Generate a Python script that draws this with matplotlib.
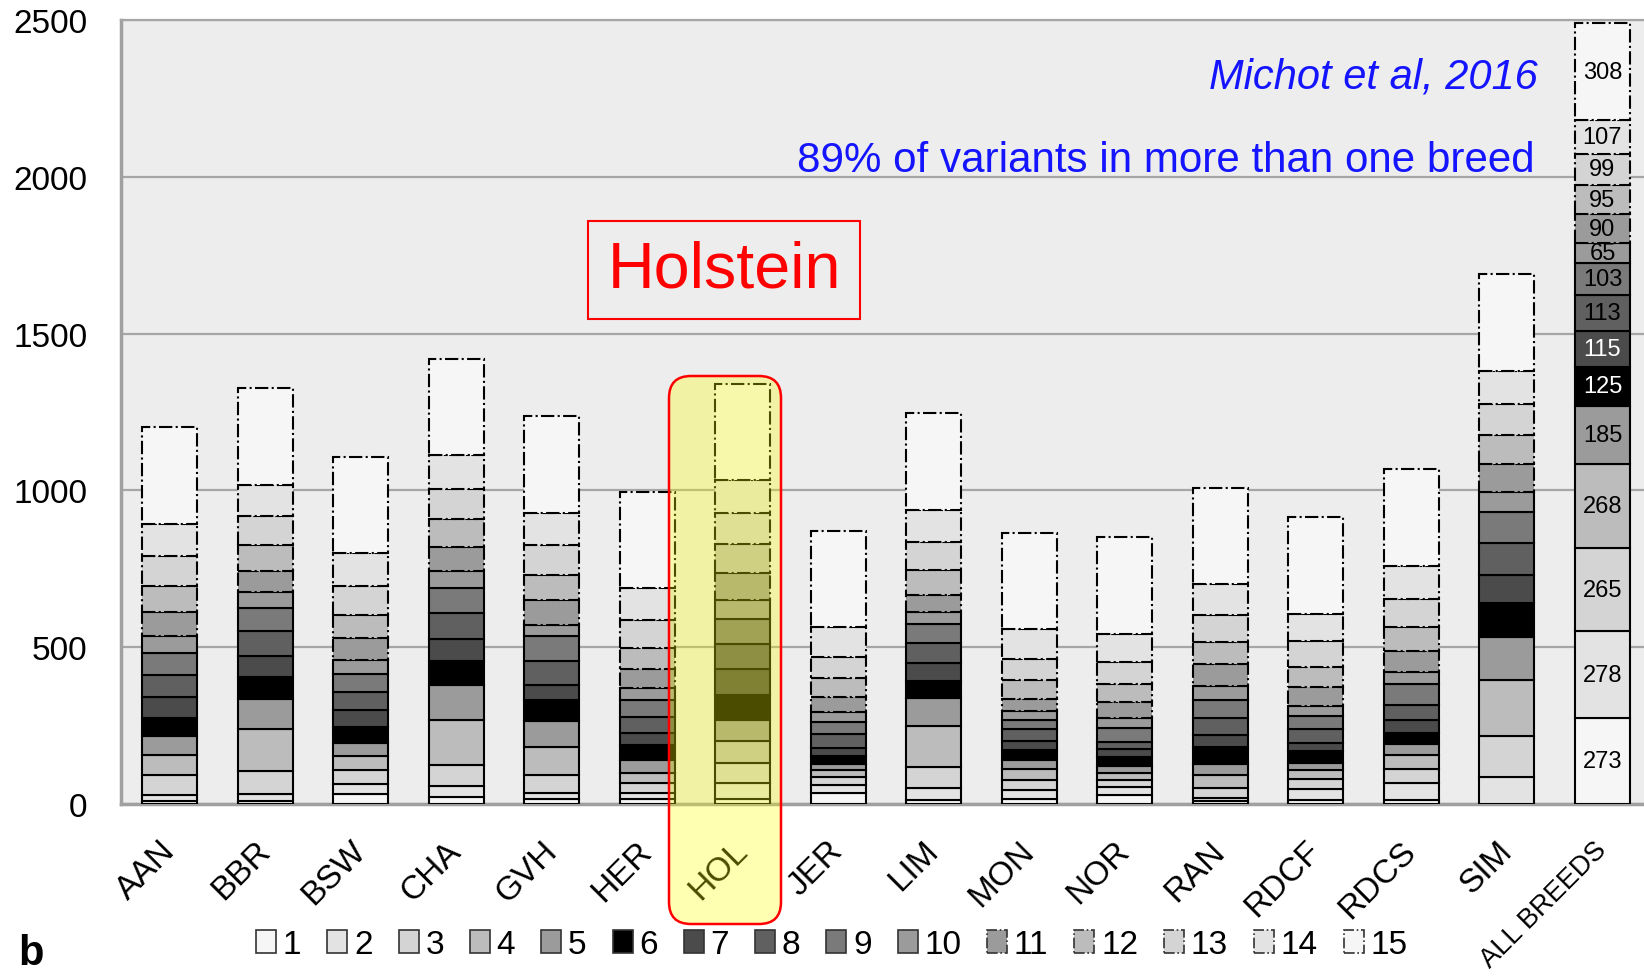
import numpy as np
import matplotlib
matplotlib.use("Agg")
import matplotlib.pyplot as plt
from matplotlib.patches import Patch, FancyBboxPatch
from matplotlib.transforms import IdentityTransform

plt.rcParams['font.family'] = ['Liberation Sans', 'DejaVu Sans']

# number of variants per breed, split by how many breeds share the variant (1..15)
breeds = ["AAN", "BBR", "BSW", "CHA", "GVH", "HER", "HOL", "JER", "LIM",
          "MON", "NOR", "RAN", "RDCF", "RDCS", "SIM", "ALL BREEDS"]
shared = [str(k) for k in range(1, 16)]

AAN = [8, 21, 64, 64, 60, 57, 68, 70, 70, 55, 74, 85, 96, 101, 308]
BBR = [8, 24, 72, 135, 96, 69, 67, 82, 71, 51, 69, 83, 90, 100, 308]
BSW = [33, 32, 45, 43, 43, 51, 52, 58, 58, 44, 70, 74, 93, 103, 308]
CHA = [23, 35, 67, 144, 110, 76, 71, 82, 80, 55, 77, 90, 96, 106, 308]
GVH = [16, 19, 58, 88, 85, 66, 48, 77, 78, 37, 77, 80, 96, 104, 308]
HER = [16, 18, 33, 32, 42, 46, 39, 53, 52, 38, 60, 69, 90, 100, 308]
HOL = [15, 51, 66, 68, 67, 82, 80, 81, 79, 62, 85, 94, 99, 103, 308]
JER = [36, 24, 26, 24, 16, 27, 27, 43, 37, 32, 50, 60, 68, 94, 308]
LIM = [14, 37, 67, 130, 90, 55, 56, 63, 61, 39, 55, 80, 88, 104, 308]
MON = [15, 30, 32, 34, 30, 30, 29, 39, 30, 27, 39, 62, 64, 96, 308]
NOR = [30, 24, 23, 21, 23, 28, 26, 24, 43, 32, 50, 58, 72, 88, 308]
RAN = [8, 10, 32, 43, 35, 55, 37, 53, 58, 45, 70, 71, 85, 99, 308]
RDCF = [14, 34, 33, 27, 23, 37, 27, 43, 43, 32, 61, 62, 85, 85, 308]
RDCS = [14, 53, 46, 43, 35, 34, 43, 48, 67, 39, 67, 77, 88, 105, 308]
SIM = [0, 85, 133, 176, 137, 110, 88, 103, 99, 64, 88, 95, 96, 107, 308]
ALL = [273, 278, 265, 268, 185, 125, 115, 113, 103, 65, 90, 95, 99, 107, 308]

data = np.array([AAN, BBR, BSW, CHA, GVH, HER, HOL, JER, LIM,
                 MON, NOR, RAN, RDCF, RDCS, SIM, ALL])

colors = ["#f5f6f5", "#e3e3e3", "#d4d4d4", "#bcbcbc", "#9b9b9b",
          "#000000", "#4b4b4b", "#606060", "#7a7a7a", "#9b9b9b",
          "#9b9b9b", "#bcbcbc", "#d4d4d4", "#e3e3e3", "#f5f6f5"]
styles = ['-'] * 10 + ['-.'] * 5

W, H = 1644, 978
fig = plt.figure(figsize=(W / 100, H / 100), dpi=100)
ax = fig.add_axes([121 / W, (H - 805) / H, 1 - 121 / W, (805 - 21) / H])
ax.set_facecolor('#ecedec')

pos = np.arange(len(breeds))
bottom = np.zeros(len(breeds))
for k in range(15):
    ax.bar(pos, data[:, k], 0.576, bottom=bottom, color=colors[k],
           edgecolor='black', linewidth=1.5, linestyle=styles[k], zorder=3)
    bottom += data[:, k]

# numbers inside the ALL BREEDS bar
cum = np.cumsum(ALL)
for k, v in enumerate(ALL):
    c = 'white' if k in (5, 6) else 'black'
    ax.text(pos[-1], cum[k] - v / 2, str(v), ha='center', va='center',
            fontsize=17, color=c, zorder=5)

ax.set_xlim(-0.513, 15.435)
ax.set_ylim(0, 2500)
ax.set_yticks(range(0, 2501, 500))
ax.yaxis.grid(True, color='#a6a6a6', linewidth=1.6, zorder=0)
ax.set_axisbelow(True)
ax.tick_params(axis='y', length=0, pad=24, labelsize=24)
ax.tick_params(axis='x', length=0, pad=30)
ax.set_xticks(pos)
ax.set_xticklabels(breeds, rotation=45, ha='right', rotation_mode='anchor',
                   fontsize=24)
for t in ax.get_xticklabels():
    t.set_va('center')
# the long last label is kept a bit smaller so it stays inside the figure
ax.get_xticklabels()[-1].set_fontsize(19.5)

for s in ['left', 'bottom']:
    ax.spines[s].set_color('#a0a0a0')
    ax.spines[s].set_linewidth(2.5)
ax.spines['top'].set_color('#a6a6a6')
ax.spines['top'].set_linewidth(1.6)
ax.spines['right'].set_visible(False)

# texts
fig.text(1538 / W, 1 - 78 / H, "Michot et al, 2016", color='#1414ff',
         fontsize=30, style='italic', ha='right', va='center')
fig.text(1535 / W, 1 - 161 / H, "89% of variants in more than one breed",
         color='#1414ff', fontsize=30.3, ha='right', va='center')
fig.text(724 / W, 1 - 271 / H, "Holstein", color='red', fontsize=46.5,
         ha='center', va='center',
         bbox=dict(boxstyle='square,pad=0.3', fc='none', ec='red', lw=1.5))
fig.text(31 / W, 1 - 954 / H, "b", fontsize=30, fontweight='bold',
         ha='center', va='center')

# legend
handles = [Patch(facecolor=colors[k], edgecolor='#333333', linewidth=1.2,
                 linestyle=styles[k]) for k in range(15)]
fig.legend(handles, shared, loc='center', bbox_to_anchor=(0.506, 0.033),
           ncol=15, frameon=False, fontsize=24, handlelength=0.6,
           handleheight=0.7, handletextpad=0.2, columnspacing=0.78)

# highlight for Holstein
hl = FancyBboxPatch((669, H - 925), 112, 548,
                    boxstyle='round,pad=0,rounding_size=22',
                    facecolor=(1, 1, 0, 0.3), edgecolor='red', linewidth=1.8,
                    transform=IdentityTransform(), zorder=10)
fig.add_artist(hl)

fig.savefig("out.png", dpi=100)
